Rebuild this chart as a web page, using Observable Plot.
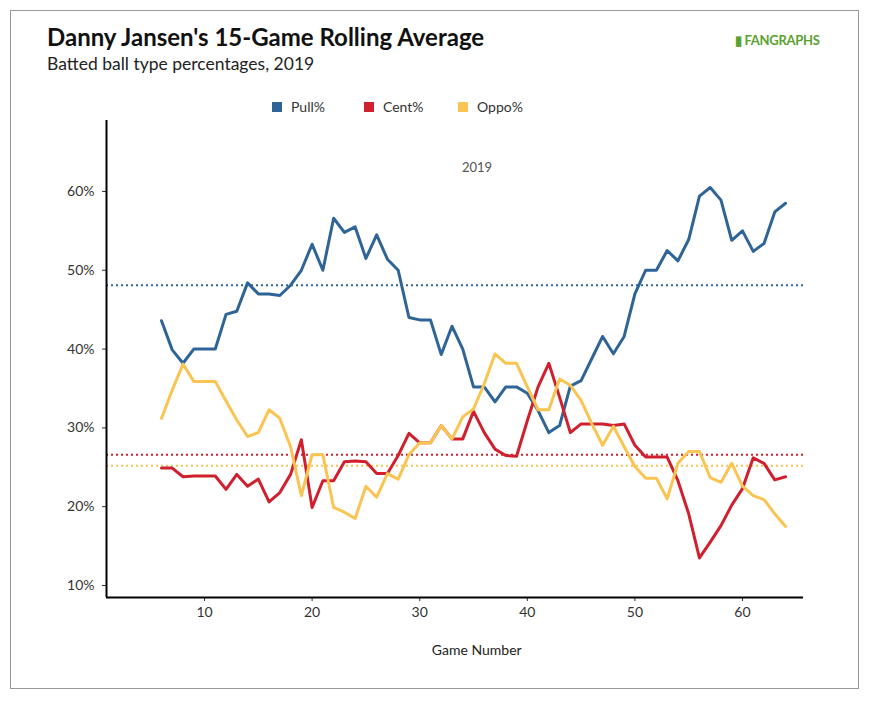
<!DOCTYPE html>
<html><head><meta charset="utf-8">
<script src="https://cdn.jsdelivr.net/npm/d3@7"></script>
<script src="https://cdn.jsdelivr.net/npm/@observablehq/plot@0.6"></script>
<style>
body{margin:0;font-family:Lato,"Open Sans",sans-serif;background:#fff}
#wrap{position:relative;width:878px;height:705px}
#frame{position:absolute;left:10px;top:10px;width:849px;height:679px;border:1px solid #999;box-sizing:border-box}
.t{position:absolute;white-space:nowrap}
#chart{position:absolute;left:0;top:0}
</style></head><body>
<div id="wrap">
<div id="frame"></div>
<div id="chart"></div>
<div class="t" style="left:47px;top:22px;font-size:24px;font-weight:bold;color:#111">Danny Jansen's 15-Game Rolling Average</div>
<div class="t" style="left:47px;top:53px;font-size:17.5px;color:#222">Batted ball type percentages, 2019</div>
<div class="t" style="left:735px;top:32px;font-size:13px;font-weight:bold;color:#5aa12f;letter-spacing:-0.3px">▮ FANGRAPHS</div>
<div class="t" style="left:272px;top:98px;font-size:14px;color:#333"><span style="display:inline-block;width:10px;height:10px;background:#2e6496;margin-right:9px"></span>Pull%</div>
<div class="t" style="left:364px;top:98px;font-size:14px;color:#333"><span style="display:inline-block;width:10px;height:10px;background:#d0202e;margin-right:9px"></span>Cent%</div>
<div class="t" style="left:458px;top:98px;font-size:14px;color:#333"><span style="display:inline-block;width:10px;height:10px;background:#f9c451;margin-right:9px"></span>Oppo%</div>
</div>
<script>
const games = d3.range(6, 65);
const pull = [43.6,39.9,38.2,40,40,40,44.4,44.8,48.4,47.0,47.0,46.8,48.1,50,53.3,50,56.6,54.8,55.5,51.5,54.5,51.4,50,44.0,43.7,43.7,39.3,42.9,40.0,35.2,35.2,33.3,35.2,35.2,34.4,32.2,29.4,30.3,35.3,36.0,38.8,41.6,39.4,41.6,47.0,50.0,50.0,52.5,51.2,53.9,59.4,60.5,58.9,53.8,55.0,52.4,53.4,57.4,58.5];
const cent = [24.9,24.9,23.8,23.9,23.9,23.9,22.2,24.1,22.6,23.5,20.6,21.8,24.1,28.5,19.9,23.3,23.3,25.7,25.8,25.7,24.2,24.2,26.5,29.3,28.1,28.1,30.3,28.6,28.6,32.1,29.4,27.3,26.5,26.4,30.9,35.2,38.2,33.9,29.4,30.5,30.5,30.5,30.3,30.5,27.8,26.3,26.3,26.3,23.3,19.1,13.5,15.5,17.6,20.2,22.3,26.2,25.5,23.4,23.8];
const oppo = [31.2,34.8,38.1,35.9,35.9,35.9,33.4,31.0,28.9,29.4,32.3,31.2,27.6,21.4,26.6,26.6,19.9,19.3,18.5,22.6,21.2,24.2,23.5,26.6,28.1,28.1,30.3,28.6,31.4,32.4,35.6,39.4,38.2,38.2,35.2,32.3,32.3,36.2,35.4,33.5,30.5,27.8,30.2,27.6,25.1,23.6,23.6,21.0,25.5,27.0,27.0,23.7,23.1,25.5,22.6,21.4,20.9,19.1,17.5];
const seriesNames = ["Pull%","Cent%","Oppo%"];
const colors = ["#2e6496","#d0202e","#f9c451"];
const averages = [48.1,26.6,25.2];
const yTicks = [10,20,30,40,50,60];
const xTicks = [10,20,30,40,50,60];
const vals = [pull,cent,oppo];
const rows = seriesNames.flatMap((s,i)=>games.map((g,j)=>({s,g,v:vals[i][j]})));
const avgRows = seriesNames.map((s,i)=>({s,v:averages[i]}));
const chart = Plot.plot({
  width:878,height:705,marginLeft:106,marginRight:75,marginTop:120,marginBottom:108,
  style:{fontFamily:"Lato",fontSize:"14px",color:"#333",background:"transparent"},
  x:{domain:[0.89,65.67],ticks:xTicks,tickSize:4,label:null,tickPadding:6},
  y:{domain:[8.48,69],ticks:yTicks,tickFormat:d=>d+"%",tickSize:4,label:null,tickPadding:8},
  color:{domain:seriesNames,range:colors},
  marks:[
    Plot.ruleY(avgRows,{y:"v",stroke:"s",strokeWidth:2,strokeDasharray:"2,3"}),
    Plot.line(rows,{x:"g",y:"v",z:"s",stroke:"s",strokeWidth:3}),
    Plot.ruleX([0.89],{stroke:"#000",strokeWidth:2}),
    Plot.ruleY([8.48],{stroke:"#000",strokeWidth:2}),
    Plot.text(["2019"],{frameAnchor:"top",dx:22,dy:42,fill:"#555",fontSize:13}),
    Plot.text(["Game Number"],{x:35.3,y:8.48,dy:53,fill:"#222",fontSize:14})
  ]
});
document.getElementById("chart").appendChild(chart);
</script></body></html>
